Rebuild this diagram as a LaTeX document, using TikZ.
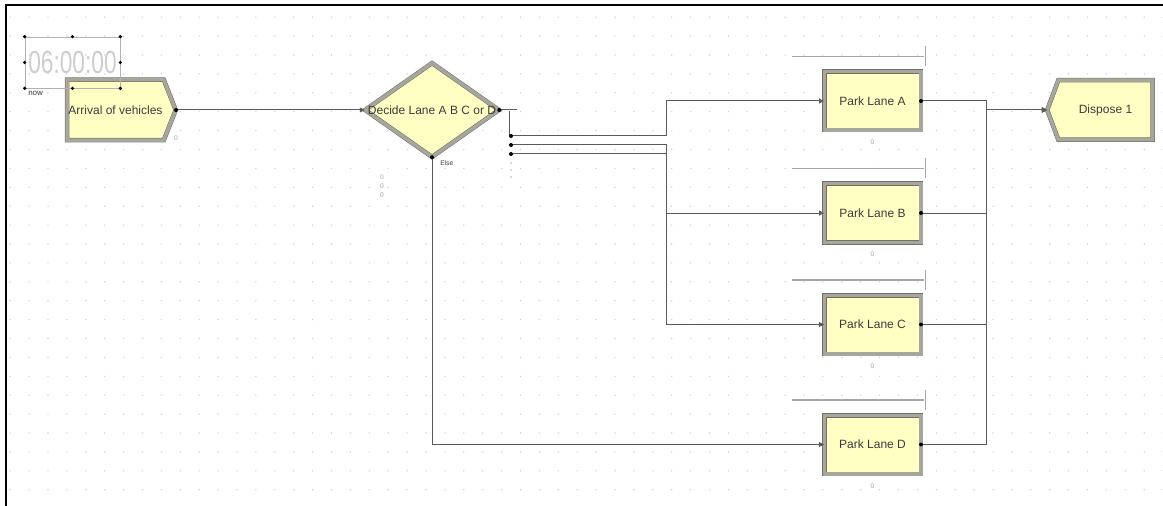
\documentclass[tikz,border=0pt]{standalone}
\usepackage{fontspec}
\setmainfont{Liberation Sans}
\usepackage{graphicx}
\usetikzlibrary{positioning, shapes.geometric, shapes.symbols, arrows.meta, calc}
\definecolor{arfill}{HTML}{FFFFC4}
\definecolor{arrim}{HTML}{A6A69C}
\definecolor{aredge}{HTML}{707068}
\definecolor{arline}{HTML}{5A5A5A}
\definecolor{argrid}{HTML}{D2D2D2}
\definecolor{artext}{HTML}{3C3C3C}
\definecolor{arclock}{HTML}{CDCDCD}
\newdimen\pxu \pxu=0.75pt

\begin{document}
\begin{tikzpicture}[x=0.75pt, y=-0.75pt,
          mod/.style={draw=aredge, line width=0.5\pxu, double=arrim, double distance=3.5\pxu, fill=arfill, text=artext, font=\fontsize{9}{10}\selectfont, inner sep=0pt},
          proc/.style={mod, rectangle, minimum width=96.5\pxu, minimum height=58.5\pxu},
          wire/.style={draw=arline, line width=1\pxu},
          conn/.style={wire, -{Triangle[length=3.75pt, width=3.75pt]}},
          qline/.style={draw=gray!70, line width=1.6\pxu},
          cnt/.style={text=gray!70, font=\fontsize{5}{5}\selectfont, inner sep=0pt}]
        \useasboundingbox (0,0) rectangle (1163,506);
        % dotted grid of the model window
        \foreach \i in {0,...,61} \foreach \j in {0,...,26}
          \fill[argrid] (10.2+18.9*\i, 17.2+18.9*\j) circle (0.8\pxu);
        \draw[line width=2\pxu, black] (6,506) -- (6,5) -- (1163,5);

        % modules
        \node[mod, signal, signal to=east, signal pointer angle=137, minimum width=108.5\pxu, minimum height=60.5\pxu] (arr) at (115.5,110) {Arrival of vehicles};
        \node[mod, diamond, minimum width=134\pxu, minimum height=94\pxu] (dec) at (432,110) {};
        \node[text=artext, font=\fontsize{9}{10}\selectfont, inner sep=0pt] (declbl) at (dec.center) {Decide Lane A B C or D};
        \node[proc] (pA) at (872.5,101) {Park Lane A};
        \node[proc, below=53\pxu of pA] (pB) {Park Lane B};
        \node[proc, below=52.5\pxu of pB] (pC) {Park Lane C};
        \node[proc, below=61\pxu of pC] (pD) {Park Lane D};
        \node[mod, signal, signal to=west, signal pointer angle=139, minimum width=105.5\pxu, minimum height=59.5\pxu] (disp) at (1105.5,110) {Dispose 1};

        % animation clock
        \node[draw=gray!60, line width=0.7\pxu, minimum width=95\pxu, minimum height=51\pxu, inner sep=0pt] (clk) at (72.5,62.5) {\scalebox{0.71}[1]{\fontsize{24}{24}\selectfont\color{arclock}06:00:00}};
        \foreach \a in {north west, north, north east, west, east, south west, south, south east}
          \fill (clk.\a) circle (1.8\pxu);
        \node[cnt, text=artext, font=\fontsize{6}{6}\selectfont, anchor=west] (nowl) at (28,93) {now};

        % counters
        \node[cnt] (arrc) at (176,138) {0};
        \foreach \k/\yy in {1/177, 2/186, 3/195}
          \node[cnt] (dc\k) at (382,\yy) {0};
        \node[cnt, text=artext, anchor=west] (elsel) at (440,163) {Else};

        % decide exit points
        \coordinate (e0) at (509,111);
        \coordinate (e1) at (511,136);
        \coordinate (e2) at (511,145);
        \coordinate (e3) at (511,154);
        \coordinate (splitL) at (666,0);
        \coordinate (busR) at (986,0);
        \draw[wire] (dec.east) -- ++(18,0);
        \draw[wire] (e0) -- (e0 |- e1);
        \foreach \yy in {163,170,177}
          \fill[arline] (511,\yy) circle (0.7\pxu);

        % connections
        \draw[conn] (arr.east) -- (dec.west);
        \draw[conn] (e1) -- (e1 -| splitL) |- (pA.west);
        \draw[conn] (e2) -- (e2 -| splitL) |- (pB.west);
        \draw[conn] (e3) -- (e3 -| splitL) |- (pC.west);
        \draw[conn] (dec.south) |- (pD.west);
        \foreach \p in {pA,pB,pC,pD} {
          \draw[conn] (\p.east) -- (\p.east -| busR) |- (disp.west);
          \draw[qline] ($(\p.north west)+(-32,-15)$) -- ($(\p.north east)+(3,-15)$);
          \draw[draw=gray!70, line width=1\pxu] ($(\p.north east)+(4,-25)$) -- ++(0,20);
          \node[cnt] (\p-cnt) at ($(\p.south)+(0,12)$) {0};
          \fill (\p.east) circle (2\pxu);
        }
        \foreach \c in {arr.east, dec.east, dec.south, e1, e2, e3}
          \fill (\c) circle (2\pxu);
      \end{tikzpicture}
\end{document}
